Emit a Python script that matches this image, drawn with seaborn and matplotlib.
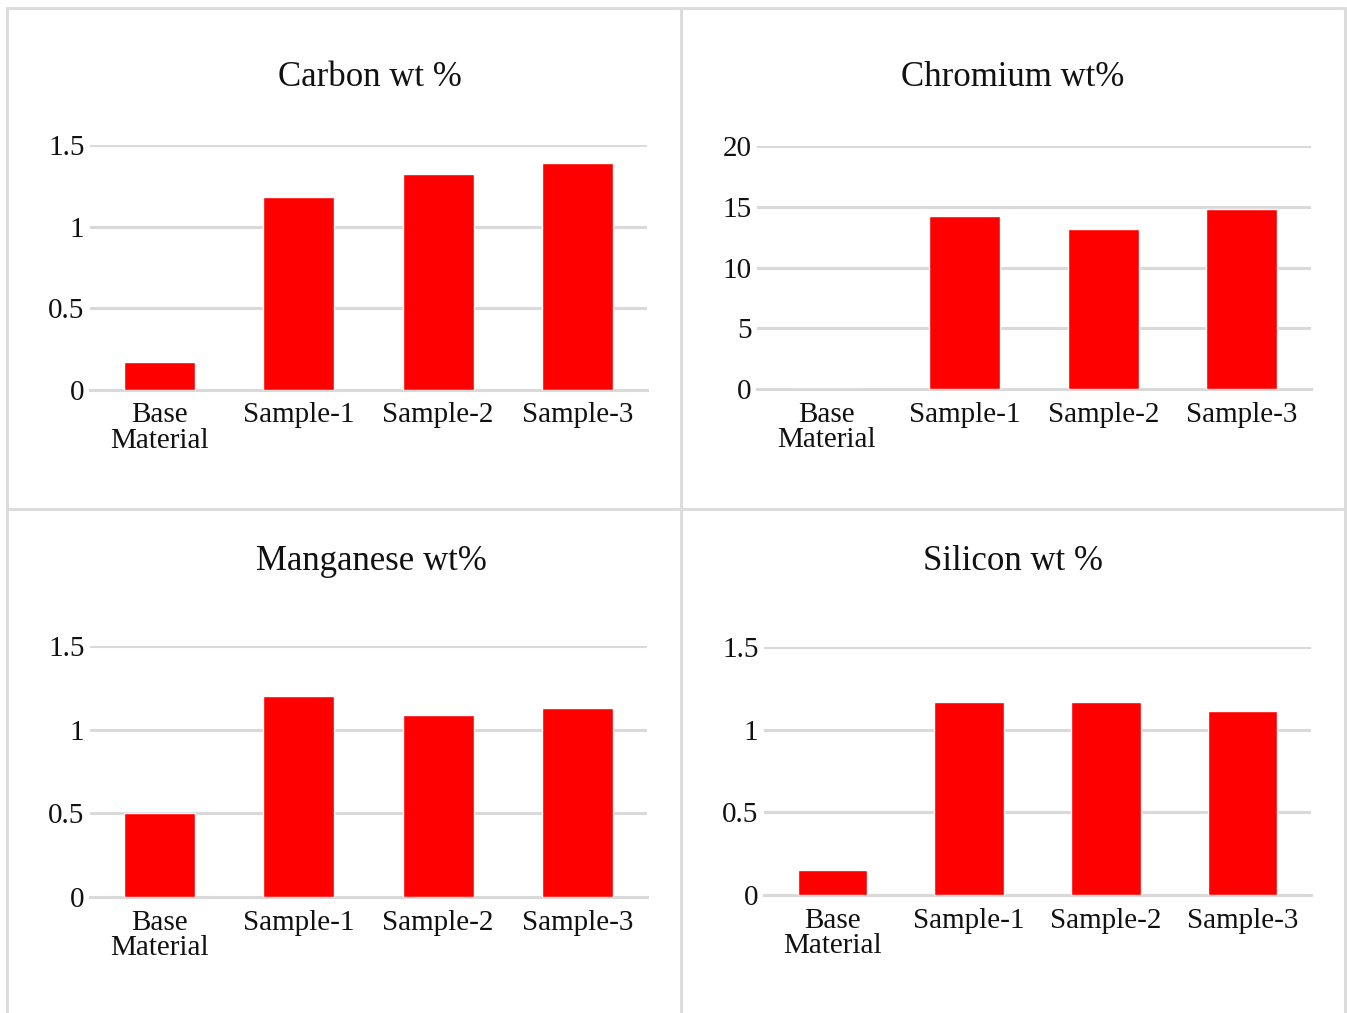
import matplotlib
matplotlib.use("Agg")
import matplotlib.pyplot as plt
import seaborn as sns
import pandas as pd
from matplotlib.lines import Line2D

# Data
categories = ["Base\nMaterial", "Sample-1", "Sample-2", "Sample-3"]
carbon = [0.17, 1.18, 1.32, 1.39]
chromium = [0.0, 14.2, 13.2, 14.8]
manganese = [0.50, 1.20, 1.09, 1.13]
silicon = [0.15, 1.17, 1.17, 1.11]

titles = ["Carbon wt %", "Chromium wt%", "Manganese wt%", "Silicon wt %"]
yticks_small = [0, 0.5, 1, 1.5]
ytick_labels_small = ["0", "0.5", "1", "1.5"]
yticks_cr = [0, 5, 10, 15, 20]
ytick_labels_cr = ["0", "5", "10", "15", "20"]

sns.set_theme(style="white")
plt.rcParams["font.family"] = ["Liberation Serif", "DejaVu Serif"]

W, H = 1347, 1013
fig = plt.figure(figsize=(W / 100, H / 100), dpi=100)
fig.patch.set_facecolor("white")

# panel boxes (pixel coords) -> axes rect, title position
panels = [
    dict(vals=carbon, ticks=yticks_small, labels=ytick_labels_small, ylim=1.5,
         box=(90, 145, 647, 390), title=titles[0], tpos=(370, 77)),
    dict(vals=chromium, ticks=yticks_cr, labels=ytick_labels_cr, ylim=20,
         box=(757, 146, 1311, 389), title=titles[1], tpos=(1013, 77)),
    dict(vals=manganese, ticks=yticks_small, labels=ytick_labels_small, ylim=1.5,
         box=(90, 646, 647, 897), title=titles[2], tpos=(371, 561)),
    dict(vals=silicon, ticks=yticks_small, labels=ytick_labels_small, ylim=1.5,
         box=(764, 647, 1311, 895), title=titles[3], tpos=(1013, 561)),
]

grid_col = "#d9d9d9"

for p in panels:
    x0, y0, x1, y1 = p["box"]
    ax = fig.add_axes([x0 / W, 1 - y1 / H, (x1 - x0) / W, (y1 - y0) / H])
    df = pd.DataFrame({"cat": categories, "val": p["vals"]})
    sns.barplot(data=df, x="cat", y="val", color="#ff0000", saturation=1,
                width=0.51, ax=ax, zorder=3)
    ax.set_ylim(0, p["ylim"])
    ax.set_yticks(p["ticks"])
    ax.set_yticklabels(p["labels"])
    ax.set_xlabel("")
    ax.set_ylabel("")
    ax.yaxis.grid(True, color=grid_col, linewidth=2.2, zorder=0)
    ax.set_axisbelow(True)
    for s in ["top", "right", "left"]:
        ax.spines[s].set_visible(False)
    ax.spines["bottom"].set_color(grid_col)
    ax.spines["bottom"].set_linewidth(2.2)
    ax.spines["bottom"].set_zorder(1)
    ax.tick_params(axis="y", length=0, pad=4, labelsize=21, labelcolor="#111111")
    ax.tick_params(axis="x", length=0, pad=9, labelsize=21, labelcolor="#111111")
    for lbl in ax.get_xticklabels():
        lbl.set_linespacing(0.98)
    fig.text(p["tpos"][0] / W, 1 - p["tpos"][1] / H, p["title"],
             ha="center", va="center", fontsize=25, color="#111111")

# panel borders
border = "#dcdcdc"
def hline(y, xa, xb):
    fig.add_artist(Line2D([xa / W, xb / W], [1 - y / H, 1 - y / H],
                          color=border, linewidth=2.2))
def vline(x, ya, yb):
    fig.add_artist(Line2D([x / W, x / W], [1 - ya / H, 1 - yb / H],
                          color=border, linewidth=2.2))

hline(8, 7, 1345)
hline(509, 7, 1345)
vline(7, 8, 1012)
vline(681, 8, 1012)
vline(1345, 8, 1012)

fig.savefig("out.png", dpi=100, facecolor="white")
